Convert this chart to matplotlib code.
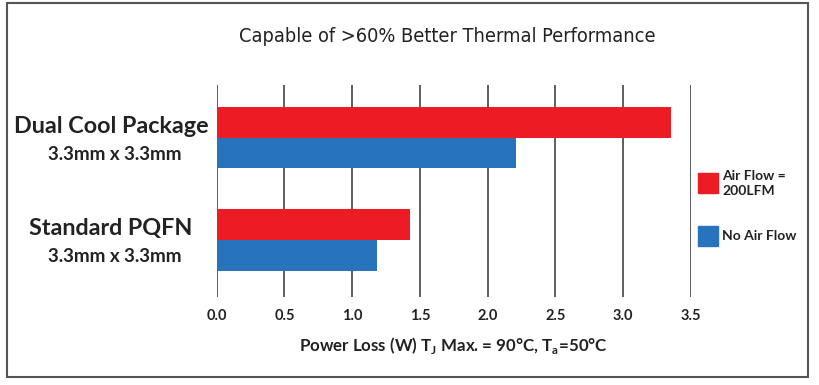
import matplotlib
matplotlib.use("Agg")
import matplotlib.pyplot as plt
from matplotlib.patches import Rectangle

# Data
packages = ["Dual Cool Package", "Standard PQFN"]
sizes = ["3.3mm x 3.3mm", "3.3mm x 3.3mm"]
air_flow = [3.35, 1.43]
no_air_flow = [2.21, 1.18]
series_labels = ["Air Flow =\n200LFM", "No Air Flow"]
colors = ["#ED1C24", "#2773BC"]
xticks = [0.0, 0.5, 1.0, 1.5, 2.0, 2.5, 3.0, 3.5]

W, H = 820, 385
fig = plt.figure(figsize=(W / 100, H / 100), dpi=100)
font = "Lato"

# axes in pixel terms: x 216.7..691, y 85..297
ax = fig.add_axes([216.7 / W, 1 - 297 / H, (691 - 216.7) / W, (297 - 85) / H])

bh = 0.3
ypos = [0, 1]
ax.barh([y - bh / 2 for y in ypos], air_flow, height=bh, color=colors[0], zorder=3)
ax.barh([y + bh / 2 for y in ypos], no_air_flow, height=bh, color=colors[1], zorder=3)

ax.set_xlim(0, 3.5)
ax.set_ylim(1.557, -0.515)
ax.set_xticks(xticks)
ax.set_xticklabels([f"{t:.1f}" for t in xticks], fontfamily=font, fontweight="bold",
                   fontsize=10.5, color="#222222")
ax.tick_params(axis="x", length=0, pad=9)
ax.set_yticks([])
ax.grid(axis="x", color="#333333", lw=1.1, zorder=0)
for s in ax.spines.values():
    s.set_visible(False)

# category labels
for y, name, sz in zip(ypos, packages, sizes):
    ty = 1 - (137.7 + 102.3 * y - 11) / H
    fig.text(111 / W, ty, name, ha="center", va="center", fontfamily=font,
             fontweight="bold", fontsize=16.8, color="#222222")
    fig.text(115 / W, ty - 28 / H, sz, ha="center", va="center", fontfamily=font,
             fontweight="bold", fontsize=13.5, color="#222222")

# title and axis label
fig.text(447 / W, 1 - 37 / H, "Capable of >60% Better Thermal Performance", ha="center",
         va="center", fontfamily="DejaVu Sans", fontstretch="condensed", fontsize=14.3,
         color="#222222")
fig.text(453 / W, 1 - 345 / H, r"Power Loss (W) T$_\mathregular{J}$ Max. = 90°C, T$_\mathregular{a}$=50°C",
         ha="center", va="center", fontfamily=font, fontweight="bold", fontsize=12.2,
         color="#222222")

# legend
leg_y = [183, 236]
for yy, lab, c in zip(leg_y, series_labels, colors):
    fig.add_artist(Rectangle((698 / W, 1 - (yy + 10) / H), 20 / W, 20 / H,
                             transform=fig.transFigure, color=c))
    fig.text(722 / W, 1 - yy / H, lab, ha="left", va="center", fontfamily=font,
             fontweight="bold", fontsize=10, color="#222222", linespacing=1.3)

# outer border
fig.add_artist(Rectangle((6.7 / W, 1 - 377 / H), (808 - 6.7) / W, (377 - 3) / H,
                         transform=fig.transFigure, fill=False, edgecolor="#555555", lw=1.5))

fig.savefig("out.png", dpi=100)
